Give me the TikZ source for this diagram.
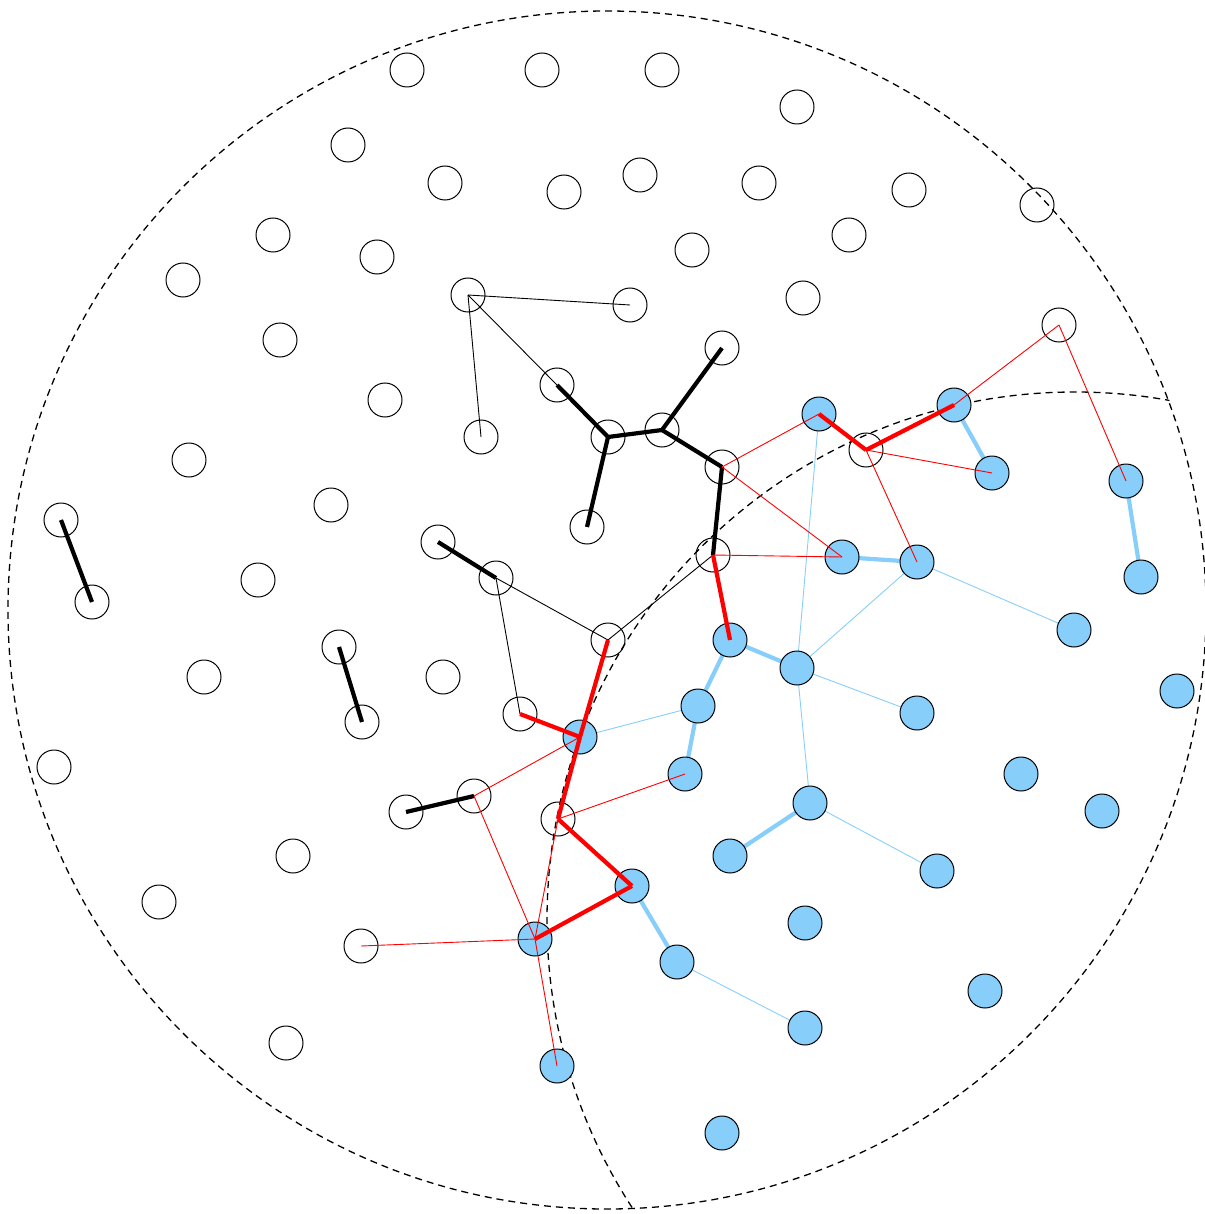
\documentclass[tikz,border=0pt]{standalone}
\begin{document}
\begin{tikzpicture}[x=1pt,y=-1pt,
  wc/.style={circle,draw=black,line width=1pt,minimum size=34pt,inner sep=0pt},
  bc/.style={circle,draw=black,fill=skyb,line width=1pt,minimum size=34pt,inner sep=0pt},
  bkthick/.style={line width=4.2pt,black},
  bkthin/.style={line width=0.9pt,black},
  rdthick/.style={line width=4.2pt,red},
  rdthin/.style={line width=0.9pt,red},
  blthick/.style={line width=4.2pt,skyb},
  blthin/.style={line width=0.9pt,skyb},
  dsh/.style={line width=1.3pt,dash pattern=on 7pt off 5pt}]
\definecolor{skyb}{RGB}{135,206,250}
\useasboundingbox (0,0) rectangle (1204,1214);
% dashed boundary circles
\draw[dsh] (607,610) circle (599pt);
\begin{scope}
  \clip (607,610) circle (600pt);
  \draw[dsh] (1075,920) circle (528pt);
\end{scope}
% blue circles coordinates
\foreach \n/\x/\y in {1/819/414,2/954/405,3/992/473,4/1126/481,5/842/557,6/917/562,7/1141/577,8/1074/630,9/730/640,10/797/668,11/1177/691,12/698/706,13/917/713,14/580/737,15/685/774,16/1021/774,17/810/803,18/1102/811,19/730/856,20/937/871,21/632/886,22/805/923,23/535/939,24/677/962,25/985/991,26/805/1028,27/557/1066,28/722/1133}
  \coordinate (p\n) at (\x,\y);
% blue connectors (under circles)
\draw[blthick] (p2)--(p3);
\draw[blthick] (p4)--(p7);
\draw[blthick] (p5)--(p6);
\draw[blthick] (p9)--(p10);
\draw[blthick] (p9)--(p12);
\draw[blthick] (p12)--(p15);
\draw[blthick] (p17)--(p19);
\draw[blthick] (p21)--(p24);
\draw[blthin] (p1)--(p10);
\draw[blthin] (p6)--(p10);
\draw[blthin] (p6)--(p8);
\draw[blthin] (p10)--(p13);
\draw[blthin] (p10)--(p17);
\draw[blthin] (p12)--(p14);
\draw[blthin] (p17)--(p20);
\draw[blthin] (p24)--(p26);
% blue nodes
\foreach \n in {1,...,28}
  \node[bc] (b\n) at (p\n) {};
% white nodes
\foreach \n/\x/\y in {1/407/70,2/542/70,3/662/70,4/797/107,5/348/145,6/445/183,7/564/192,8/640/175,9/759/183,10/909/190,11/1037/205,12/273/235,13/377/257,14/692/250,15/849/235,16/183/280,17/468/295,18/630/305,19/803/298,20/1059/325,21/280/340,22/722/348,23/385/400,24/557/385,25/481/437,26/608/437,27/662/430,28/189/460,29/722/467,30/866/450,31/61/520,32/331/505,33/587/527,34/438/542,35/258/580,36/92/602,37/496/578,38/713/555,39/608/640,40/339/647,41/204/677,42/443/677,43/362/722,44/520/714,45/54/767,46/406/812,47/474/796,48/558/819,49/293/856,50/159/902,51/361/946,52/286/1043}
  \node[wc] (w\n) at (\x,\y) {};
% black thick
\draw[bkthick] (w31.center)--(w36.center);
\draw[bkthick] (w40.center)--(w43.center);
\draw[bkthick] (w46.center)--(w47.center);
\draw[bkthick] (w34.center)--(w37.center);
\draw[bkthick] (w24.center)--(w26.center);
\draw[bkthick] (w26.center)--(w27.center);
\draw[bkthick] (w26.center)--(w33.center);
\draw[bkthick] (w27.center)--(w22.center);
\draw[bkthick] (w27.center)--(w29.center);
\draw[bkthick] (w29.center)--(w38.center);
% black thin
\draw[bkthin] (w17.center)--(w18.center);
\draw[bkthin] (w17.center)--(w25.center);
\draw[bkthin] (w17.center)--(w24.center);
\draw[bkthin] (w37.center)--(w39.center);
\draw[bkthin] (w37.center)--(w44.center);
\draw[bkthin] (w39.center)--(w38.center);
% red thin
\draw[rdthin] (w29.center)--(b1.center);
\draw[rdthin] (w29.center)--(b5.center);
\draw[rdthin] (w38.center)--(b5.center);
\draw[rdthin] (w30.center)--(b3.center);
\draw[rdthin] (w30.center)--(b6.center);
\draw[rdthin] (w20.center)--(b2.center);
\draw[rdthin] (w20.center)--(b4.center);
\draw[rdthin] (w47.center)--(b14.center);
\draw[rdthin] (w47.center)--(b23.center);
\draw[rdthin] (w48.center)--(b15.center);
\draw[rdthin] (w48.center)--(b23.center);
\draw[rdthin] (b23.center)--(b27.center);
\draw[rdthin] (w51.center)--(b23.center);
% red thick
\draw[rdthick] (w38.center)--(b9.center);
\draw[rdthick] (w39.center)--(b14.center);
\draw[rdthick] (w44.center)--(b14.center);
\draw[rdthick] (b14.center)--(w48.center);
\draw[rdthick] (w48.center)--(b21.center);
\draw[rdthick] (b21.center)--(b23.center);
\draw[rdthick] (b1.center)--(w30.center);
\draw[rdthick] (w30.center)--(b2.center);
\end{tikzpicture}
\end{document}
